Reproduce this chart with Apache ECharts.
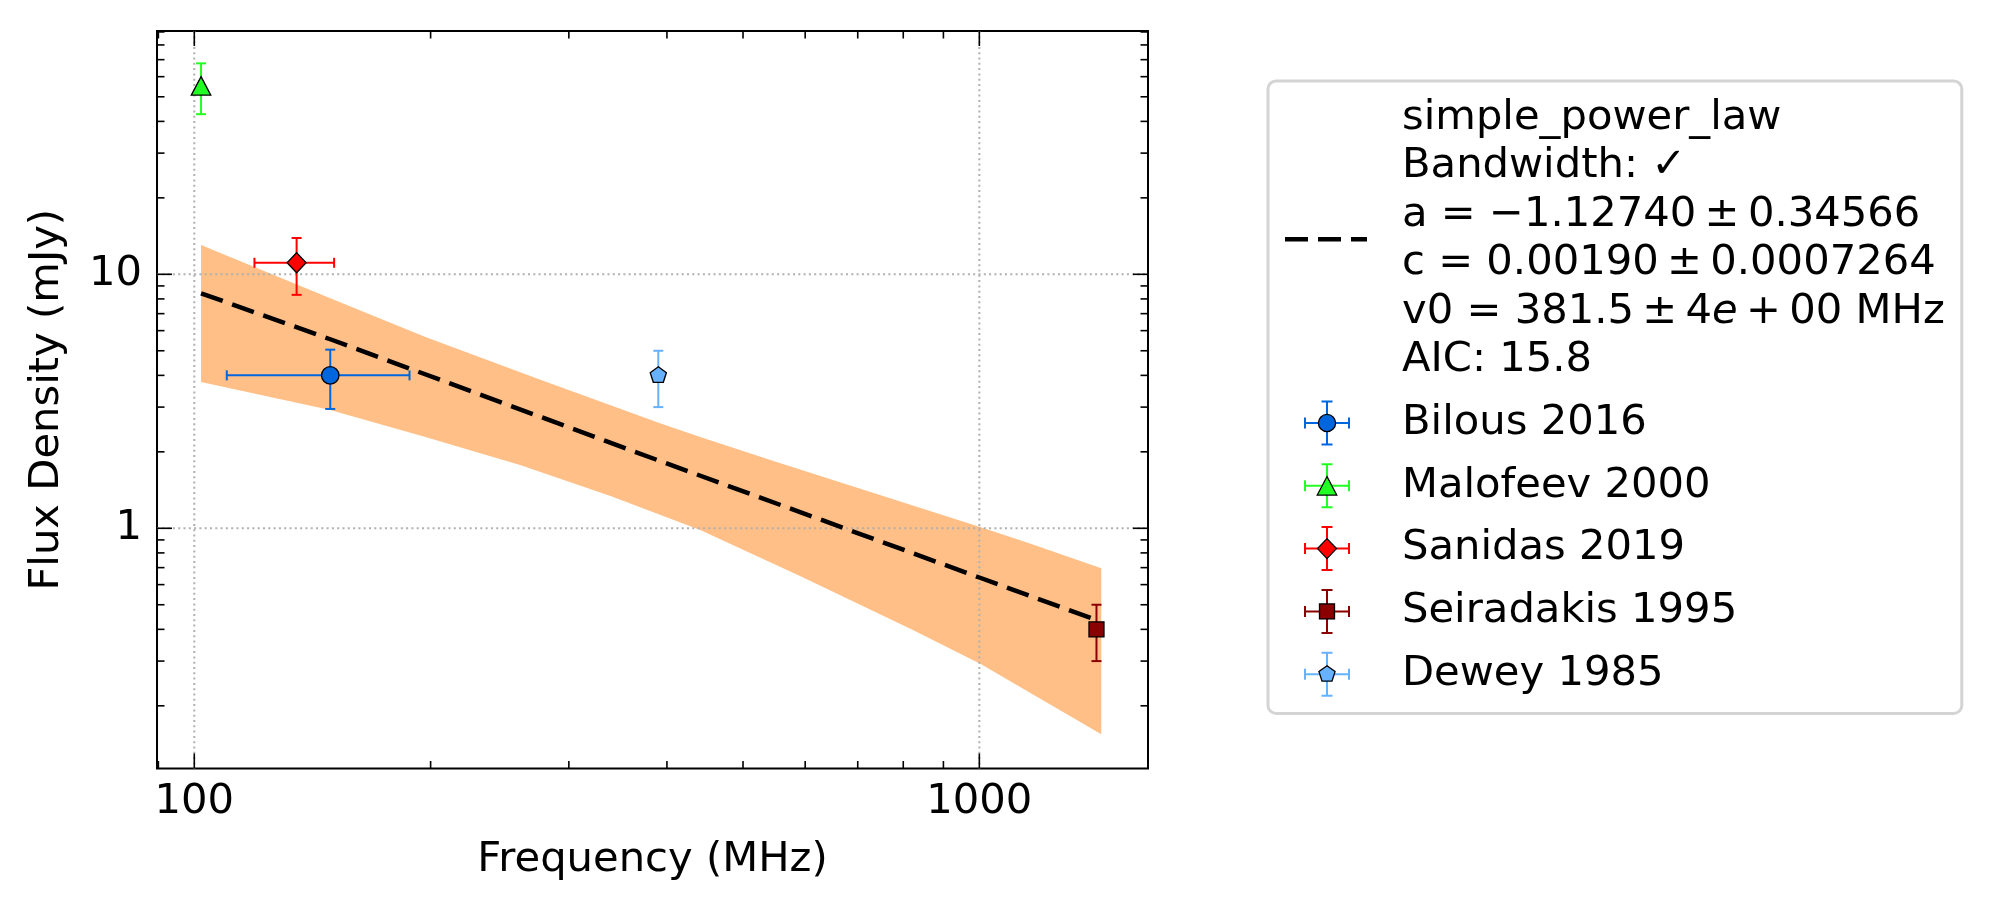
<!DOCTYPE html>
<html><head><meta charset="utf-8">
<script src="https://cdn.jsdelivr.net/npm/echarts@6/dist/echarts.min.js"></script>
<style>html,body{margin:0;padding:0;background:#fff}#chart{width:1989px;height:914px}</style>
</head><body><div id="chart"></div>
<script>
// ---------------- data ----------------
const sourceNames = ['Bilous 2016', 'Malofeev 2000', 'Sanidas 2019', 'Seiradakis 1995', 'Dewey 1985'];
const freqMHz  = [149, 102, 135, 1410, 390];
const fluxMJy  = [4.0, 55.2, 11.1, 0.40, 4.0];
const freqErr  = [39, 0, 15.7, 0, 0];
const fluxErr  = [1.05, 12.5, 2.8, 0.10, 1.0];

const fitName = 'simple_power_law';
const fitFreq = [102, 149, 392, 1000, 1410];
const fitFlux = [8.42, 5.55, 1.84, 0.64, 0.435];

const bandUpperFreq = [102, 149, 197, 276, 392, 441, 553, 1000, 1160, 1430];
const bandUpper     = [13.04, 8.05, 5.66, 3.84, 2.59, 2.29, 1.82, 1.015, 0.871, 0.696];
const bandLowerFreq = [102, 149, 197, 260, 339, 441, 591, 823, 1004, 1430];
const bandLower     = [3.77, 2.92, 2.29, 1.775, 1.34, 0.985, 0.649, 0.398, 0.292, 0.1545];

const fitLabel = 'simple_power_law\nBandwidth: \u2713\na = \u22121.12740\u2009\u00b1\u20090.34566\nc = 0.00190\u2009\u00b1\u20090.0007264\nv0 = 381.5\u2009\u00b1\u20094{it|e}\u2009+\u200900 MHz\nAIC: 15.8';

const xMajorTicks = [100, 1000];
const xTickLabels = ['100', '1000'];
const xMinorTicks = [90, 200, 300, 400, 500, 600, 700, 800, 900];
const yMajorTicks = [1, 10];
const yTickLabels = ['1', '10'];
const yMinorTicks = [0.2, 0.3, 0.4, 0.5, 0.6, 0.7, 0.8, 0.9, 2, 3, 4, 5, 6, 7, 8, 9, 20, 30, 40, 50, 60, 70, 80, 90];

const xLimits = [89.64, 1640];
const yLimits = [0.11329, 90.77];

// ---------------- styles ----------------
const FONT = 'DejaVu Sans';
const FS = 41.7;
const colors  = ['#0066dd', '#22ff22', '#ff0000', '#8b0000', '#66b2ff'];
const symbols = ['circle', 'triangle', 'diamond', 'rect',
  'path://M0,-1 L0.9511,-0.309 L0.5878,0.809 L-0.5878,0.809 L-0.9511,-0.309 Z'];
const symSizes = [17.5, [19.5, 18.5], [19, 20], 15, [16.2, 15.4]];
const symOffsets = [[0,0],[0,0],[0,0],[0,0],[0,-0.8]];

function labelFor(ticks, labels) {
  return function (v) {
    for (let i = 0; i < ticks.length; i++) {
      if (Math.abs(Math.log10(v) - Math.log10(ticks[i])) < 1e-6) return labels[i];
    }
    return '';
  };
}

function markerSvg(i) {
  const c = colors[i];
  const st = 'fill="' + c + '" stroke="#000" stroke-width="1.3"';
  let m;
  if (i === 0) m = '<circle cx="42" cy="24" r="8.6" ' + st + '/>';
  else if (i === 1) m = '<polygon points="42,14.75 51.75,33.25 32.25,33.25" ' + st + '/>';
  else if (i === 2) m = '<polygon points="42,14 51.5,24 42,34 32.5,24" ' + st + '/>';
  else if (i === 3) m = '<rect x="34.5" y="16.5" width="15" height="15" ' + st + '/>';
  else m = '<polygon points="42,15.5 50.08,21.37 47,30.88 37,30.88 33.92,21.37" ' + st + '/>';
  const ls = 'stroke="' + c + '" stroke-width="2"';
  const cross =
    '<line x1="20" y1="24" x2="64" y2="24" ' + ls + '/>' +
    '<line x1="20" y1="18.5" x2="20" y2="29.5" ' + ls + '/>' +
    '<line x1="64" y1="18.5" x2="64" y2="29.5" ' + ls + '/>' +
    '<line x1="42" y1="2.5" x2="42" y2="45.5" ' + ls + '/>' +
    '<line x1="36.5" y1="2.5" x2="47.5" y2="2.5" ' + ls + '/>' +
    '<line x1="36.5" y1="45.5" x2="47.5" y2="45.5" ' + ls + '/>';
  const svg = '<svg xmlns="http://www.w3.org/2000/svg" width="112" height="48" viewBox="0 0 112 48">' + cross + m + '</svg>';
  return 'image://data:image/svg+xml;charset=utf-8,' + encodeURIComponent(svg);
}
function dashSvg() {
  const svg = '<svg xmlns="http://www.w3.org/2000/svg" width="112" height="48" viewBox="0 0 112 48">' +
    '<line x1="0" y1="24" x2="82" y2="24" stroke="#000" stroke-width="4.5" stroke-dasharray="23,10"/></svg>';
  return 'image://data:image/svg+xml;charset=utf-8,' + encodeURIComponent(svg);
}

// ---------------- series ----------------
const series = [];

// uncertainty band
series.push({
  type: 'custom', name: 'fit_band', z: 1, silent: true,
  data: [[fitFreq[0], fitFlux[0]]],
  renderItem: function (params, api) {
    const pts = [];
    for (let i = 0; i < bandUpperFreq.length; i++) pts.push(api.coord([bandUpperFreq[i], bandUpper[i]]));
    for (let i = bandLowerFreq.length - 1; i >= 0; i--) pts.push(api.coord([bandLowerFreq[i], bandLower[i]]));
    return { type: 'polygon', shape: { points: pts }, style: { fill: '#ffbf86' } };
  }
});

// grid lines (dotted, major only)
series.push({
  type: 'custom', name: 'gridlines', z: 2, silent: true,
  data: [[100, 1]],
  renderItem: function (params, api) {
    const cs = params.coordSys;
    const kids = [];
    const st = { stroke: '#b0b0b0', lineWidth: 2, lineDash: [2, 3.3] };
    xMajorTicks.forEach(function (v) {
      const px = api.coord([v, 1])[0];
      kids.push({ type: 'line', shape: { x1: px, y1: cs.y, x2: px, y2: cs.y + cs.height }, style: st });
    });
    yMajorTicks.forEach(function (v) {
      const py = api.coord([100, v])[1];
      kids.push({ type: 'line', shape: { x1: cs.x, y1: py, x2: cs.x + cs.width, y2: py }, style: st });
    });
    return { type: 'group', children: kids };
  }
});

// fit line
series.push({
  type: 'line', name: fitName, z: 3, symbol: 'none', silent: true,
  data: fitFreq.map(function (f, i) { return [f, fitFlux[i]]; }),
  lineStyle: { color: '#000', width: 4.5, type: [23, 10] },
  itemStyle: { color: '#000' }
});

// error bars + markers
sourceNames.forEach(function (name, i) {
  series.push({
    type: 'custom', name: name, z: 4, silent: true,
    itemStyle: { color: colors[i] },
    data: [[freqMHz[i], fluxMJy[i], freqErr[i], fluxErr[i]]],
    renderItem: function (params, api) {
      const x = api.value(0), y = api.value(1), xe = api.value(2), ye = api.value(3);
      const c = api.coord([x, y]);
      const st = { stroke: colors[i], lineWidth: 2 };
      const kids = [];
      const cap = 5;
      if (xe > 0) {
        const l = api.coord([x - xe, y])[0], r = api.coord([x + xe, y])[0];
        kids.push({ type: 'line', shape: { x1: l, y1: c[1], x2: r, y2: c[1] }, style: st });
        kids.push({ type: 'line', shape: { x1: l, y1: c[1] - cap, x2: l, y2: c[1] + cap }, style: st });
        kids.push({ type: 'line', shape: { x1: r, y1: c[1] - cap, x2: r, y2: c[1] + cap }, style: st });
      }
      if (ye > 0) {
        const t = api.coord([x, y + ye])[1], b = api.coord([x, y - ye])[1];
        kids.push({ type: 'line', shape: { x1: c[0], y1: t, x2: c[0], y2: b }, style: st });
        kids.push({ type: 'line', shape: { x1: c[0] - cap, y1: t, x2: c[0] + cap, y2: t }, style: st });
        kids.push({ type: 'line', shape: { x1: c[0] - cap, y1: b, x2: c[0] + cap, y2: b }, style: st });
      }
      return { type: 'group', children: kids };
    }
  });
  series.push({
    type: 'scatter', name: name, z: 5, silent: true,
    symbol: symbols[i], symbolSize: symSizes[i], symbolOffset: symOffsets[i],
    itemStyle: { color: colors[i], borderColor: '#000', borderWidth: 1.3, opacity: 1 },
    data: [[freqMHz[i], fluxMJy[i]]]
  });
});

// ticks on all four sides, pointing inwards
series.push({
  type: 'custom', name: 'ticks', z: 6, silent: true,
  data: [[100, 1]],
  renderItem: function (params, api) {
    const cs = params.coordSys;
    const kids = [];
    const st = { stroke: '#000', lineWidth: 1.6 };
    function xt(v, len) {
      const px = api.coord([v, 1])[0];
      kids.push({ type: 'line', shape: { x1: px, y1: cs.y + cs.height, x2: px, y2: cs.y + cs.height - len }, style: st });
      kids.push({ type: 'line', shape: { x1: px, y1: cs.y, x2: px, y2: cs.y + len }, style: st });
    }
    function yt(v, len) {
      const py = api.coord([100, v])[1];
      kids.push({ type: 'line', shape: { x1: cs.x, y1: py, x2: cs.x + len, y2: py }, style: st });
      kids.push({ type: 'line', shape: { x1: cs.x + cs.width, y1: py, x2: cs.x + cs.width - len, y2: py }, style: st });
    }
    xMajorTicks.forEach(function (v) { xt(v, 15); });
    xMinorTicks.forEach(function (v) { xt(v, 7.5); });
    yMajorTicks.forEach(function (v) { yt(v, 15); });
    yMinorTicks.forEach(function (v) { yt(v, 7.5); });
    return { type: 'group', children: kids };
  }
});

// ---------------- legend ----------------
const legendData = [{ name: fitName, icon: dashSvg() }].concat(
  sourceNames.map(function (n, i) { return { name: n, icon: markerSvg(i) }; }));

const option = {
  animation: false,
  backgroundColor: '#ffffff',
  grid: {
    left: 157, top: 31, width: 991, height: 737.5,
    show: true, borderColor: '#000', borderWidth: 2, backgroundColor: 'transparent',
    containLabel: false, outerBoundsMode: 'none'
  },
  xAxis: {
    type: 'log', logBase: 10, min: xLimits[0], max: xLimits[1],
    axisLine: { show: false }, axisTick: { show: false }, splitLine: { show: false },
    minorTick: { show: false }, minorSplitLine: { show: false },
    axisLabel: {
      formatter: labelFor(xMajorTicks, xTickLabels),
      fontFamily: FONT, fontSize: FS, color: '#000', margin: 12.3, hideOverlap: false
    },
    name: 'Frequency (MHz)', nameLocation: 'middle', nameGap: 71,
    nameTextStyle: { fontFamily: FONT, fontSize: FS, color: '#000' }
  },
  yAxis: {
    type: 'log', logBase: 10, min: yLimits[0], max: yLimits[1],
    axisLine: { show: false }, axisTick: { show: false }, splitLine: { show: false },
    minorTick: { show: false }, minorSplitLine: { show: false },
    axisLabel: {
      formatter: labelFor(yMajorTicks, yTickLabels),
      fontFamily: FONT, fontSize: FS, color: '#000', margin: 15, hideOverlap: false
    },
    name: 'Flux Density (mJy)', nameLocation: 'middle', nameGap: 88.8,
    nameTextStyle: { fontFamily: FONT, fontSize: FS, color: '#000' }
  },
  legend: {
    orient: 'vertical', left: 1268, top: 81,
    padding: [13, 17, 15, 17],
    itemWidth: 112, itemHeight: 48, itemGap: 14.4,
    borderColor: '#d4d4d4', borderWidth: 3, borderRadius: 8,
    backgroundColor: 'transparent',
    selectedMode: false,
    data: legendData,
    formatter: function (name) { return name === fitName ? fitLabel : name; },
    textStyle: {
      fontFamily: FONT, fontSize: FS, color: '#000', lineHeight: 48.4,
      width: 537, overflow: 'none',
      rich: { it: { fontFamily: FONT, fontSize: FS, fontStyle: 'italic', lineHeight: 48.4, color: '#000' } }
    }
  },
  series: series
};

const chart = echarts.init(document.getElementById('chart'), null, { renderer: 'canvas' });
chart.setOption(option);
</script>
</body></html>
